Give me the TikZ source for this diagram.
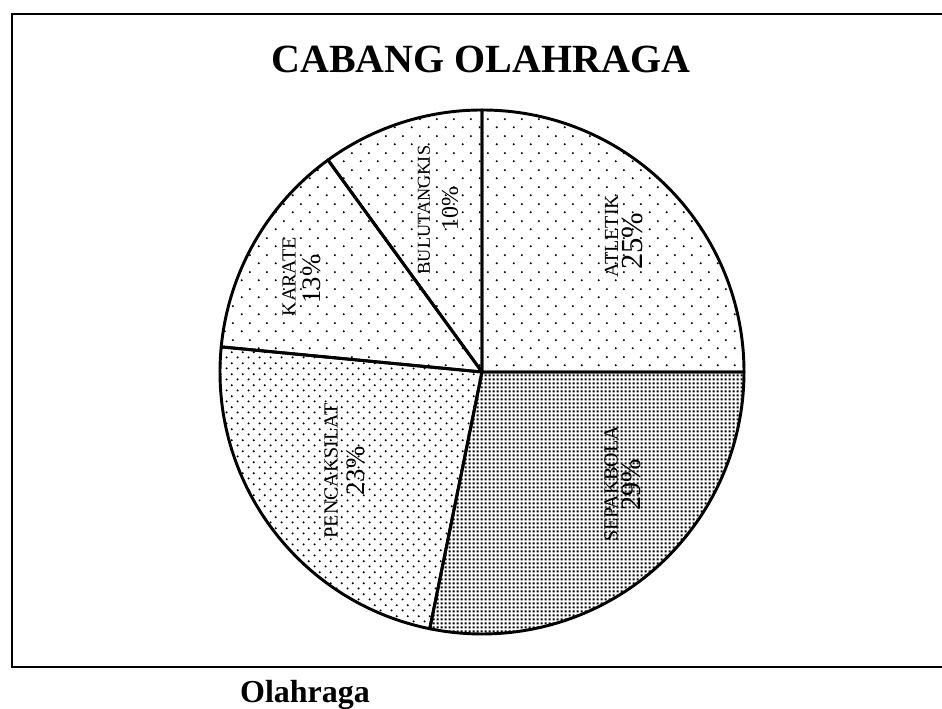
\documentclass[tikz,border=0pt]{standalone}
\usepackage{fontspec}
\setmainfont{Liberation Serif}
\usetikzlibrary{patterns}

% dot fills for the slices
\pgfdeclarepatternformonly{sparsedots}{\pgfpointorigin}{\pgfpoint{12.75pt}{12.75pt}}{\pgfpoint{12.75pt}{12.75pt}}{%
  \pgfpathcircle{\pgfpoint{3pt}{3pt}}{0.9pt}
  \pgfpathcircle{\pgfpoint{9.375pt}{9.375pt}}{0.9pt}
  \pgfusepath{fill}}
\pgfdeclarepatternformonly{middots}{\pgfpointorigin}{\pgfpoint{8pt}{8pt}}{\pgfpoint{8pt}{8pt}}{%
  \pgfpathcircle{\pgfpoint{2pt}{2pt}}{0.85pt}
  \pgfpathcircle{\pgfpoint{6pt}{6pt}}{0.85pt}
  \pgfusepath{fill}}
\pgfdeclarepatternformonly{densedots}{\pgfpointorigin}{\pgfpoint{3pt}{3pt}}{\pgfpoint{3pt}{3pt}}{%
  \pgfpathrectangle{\pgfpoint{0.65pt}{0.65pt}}{\pgfpoint{1.7pt}{1.7pt}}
  \pgfusepath{fill}}

\tikzset{
  slicename/.style={rotate=90,inner sep=0pt,font=\fontsize{15}{15}\selectfont},
  slicepct/.style={rotate=90,inner sep=0pt,font=\fontsize{20}{20}\selectfont}
}

\begin{document}
\begin{tikzpicture}[x=0.75pt,y=0.75pt]
\useasboundingbox (0,0) rectangle (942,709);

% Frame (runs off on the right)
\draw[line width=2pt] (942,695) -- (12,695) -- (12,42) -- (942,42);

% Title
\node[anchor=base,font=\bfseries\fontsize{30}{30}\selectfont] (title) at (481,636) {CABANG OLAHRAGA};

% Slices
\coordinate (c) at (482,337);
\foreach \a/\b/\pat in {0/90/sparsedots,90/126/sparsedots,126/174.5/sparsedots,174.5/258.5/middots,258.5/360/densedots} {
\draw[line width=2.2pt,line join=round,pattern=\pat] (c) -- ++(\a:262) arc (\a:\b:262) -- cycle;
}

% Labels
\node[slicename] (atletik) at (611.5,473) {ATLETIK};
\node[slicepct,font=\fontsize{23}{23}\selectfont] (atletikpct) at (632,468) {25\%};
\node[slicename] (sepakbola) at (611,225) {SEPAKBOLA};
\node[slicepct,font=\fontsize{21}{21}\selectfont] (sepakbolapct) at (631,224) {29\%};
\node[slicename] (pencaksilat) at (331,238) {PENCAKSILAT};
\node[slicepct] (pencaksilatpct) at (356,238) {23\%};
\node[slicename] (karate) at (289,432) {KARATE};
\node[slicepct] (karatepct) at (312,430) {13\%};
\node[slicename,font=\fontsize{13.7}{13.7}\selectfont] (bulutangkis) at (424,499) {BULUTANGKIS};
\node[slicepct,font=\fontsize{18}{18}\selectfont] (bulutangkispct) at (450,500) {10\%};

% Caption below frame
\node[anchor=base,font=\bfseries\fontsize{24}{24}\selectfont] (caption) at (305,6) {Olahraga};

\end{tikzpicture}
\end{document}
